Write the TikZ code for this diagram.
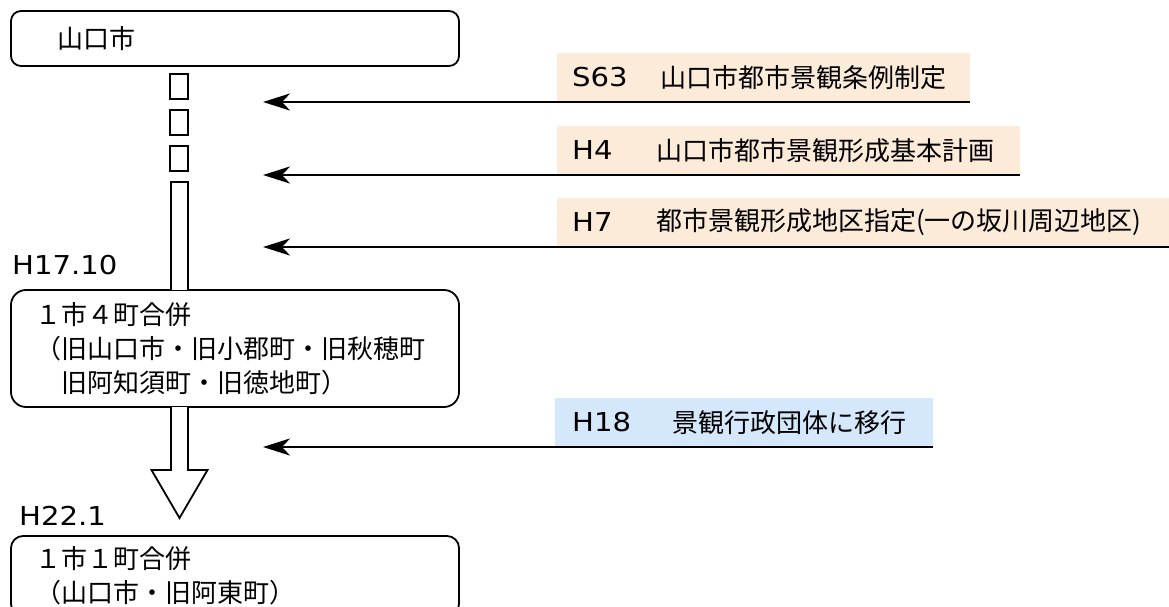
\documentclass[tikz,border=0pt]{standalone}
\usepackage{fontspec}
\setmainfont{Noto Sans CJK JP}
\newfontfamily\lat[FakeStretch=1.12]{DejaVu Sans}
\usetikzlibrary{arrows.meta,calc}
\definecolor{peach}{HTML}{FDEBD9}
\definecolor{skyb}{HTML}{D5E7FB}
\begin{document}
\begin{tikzpicture}[x=1pt,y=-1pt,
 every node/.style={font=\fontsize{26}{34}\selectfont, inner sep=0pt},
 city/.style={draw, line width=1.8pt, align=left, inner xsep=24pt, inner ysep=0pt, text width=400pt},
 band/.style={anchor=south west, minimum height=49pt, inner sep=0pt},
 yr/.style={anchor=west, font=\fontsize{26}{34}\selectfont\lat},
 desc/.style={anchor=west},
 feed/.style={line width=2.8pt, -{Stealth[length=27pt,width=17pt,inset=8pt]}},
 seg/.style={draw, line width=1.8pt, fill=white, line join=miter},
]
\useasboundingbox (0,0) rectangle (1169,607);
\clip (0,0) rectangle (1169,607);

% boxes
\node[city, rounded corners=10pt, minimum height=55pt, inner xsep=46pt, text width=356pt] (b1) at (235,38.5) {山口市};
\node[city, rounded corners=15pt, minimum height=117pt] (b2) at (235,348.5) {１市４町合併\\（旧山口市・旧小郡町・旧秋穂町\\　旧阿知須町・旧徳地町）};
\node[city, rounded corners=12pt, minimum height=80pt] (b3) at (235,576) {１市１町合併\\（山口市・旧阿東町）};

% date labels
\node[yr] (d1) at (12,265) {H17.10};
\node[yr] (d2) at (19,516) {H22.1};

% dashed shaft
\draw[seg] (170,74) rectangle (188,99);
\draw[seg] (170,110) rectangle (188,135);
\draw[seg] (170,146) rectangle (188,171);
\coordinate (st) at (179.5,290);
\draw[seg] ($(st)+(-8.5,0)$) -- ++(0,-108) -- ++(17,0) -- ++(0,108);

% block arrow
\coordinate (sb) at (179.5,407);
\draw[seg] ($(sb)+(-8.5,0)$) -- ++(0,63) -- ++(-19.5,0) -- ($(sb)+(0,111)$) -- ($(sb)+(28,63)$) -- ++(-19.5,0) -- ++(0,-63);

% right bands
\node[band, fill=peach, minimum width=413pt] (r1) at (557,102) {};
\node[band, fill=peach, minimum width=463pt] (r2) at (557,175) {};
\node[band, fill=peach, minimum width=612pt] (r3) at (557,247) {};
\node[band, fill=skyb, minimum width=378pt] (r4) at (555,447) {};

\node[yr] (y1) at (572,77.5) {S63};
\node[desc] (e1) at (660,77.5) {山口市都市景観条例制定};
\node[yr] (y2) at (572,150.5) {H4};
\node[desc] (e2) at (656,150.5) {山口市都市景観形成基本計画};
\node[yr] (y3) at (572,222.5) {H7};
\node[desc] (e3) at (656,222.5) {都市景観形成地区指定(一の坂川周辺地区)};
\node[yr] (y4) at (572,422.5) {H18};
\node[desc] (e4) at (672,422.5) {景観行政団体に移行};

% feed arrows
\coordinate (t1) at (263,102);
\coordinate (t2) at (263,175);
\coordinate (t3) at (263,247);
\coordinate (t4) at (263,447);
\draw[feed] (r1.south east) -- (t1);
\draw[feed] (r2.south east) -- (t2);
\draw[feed] (r3.south east) -- (t3);
\draw[feed] (r4.south east) -- (t4);
\end{tikzpicture}
\end{document}
